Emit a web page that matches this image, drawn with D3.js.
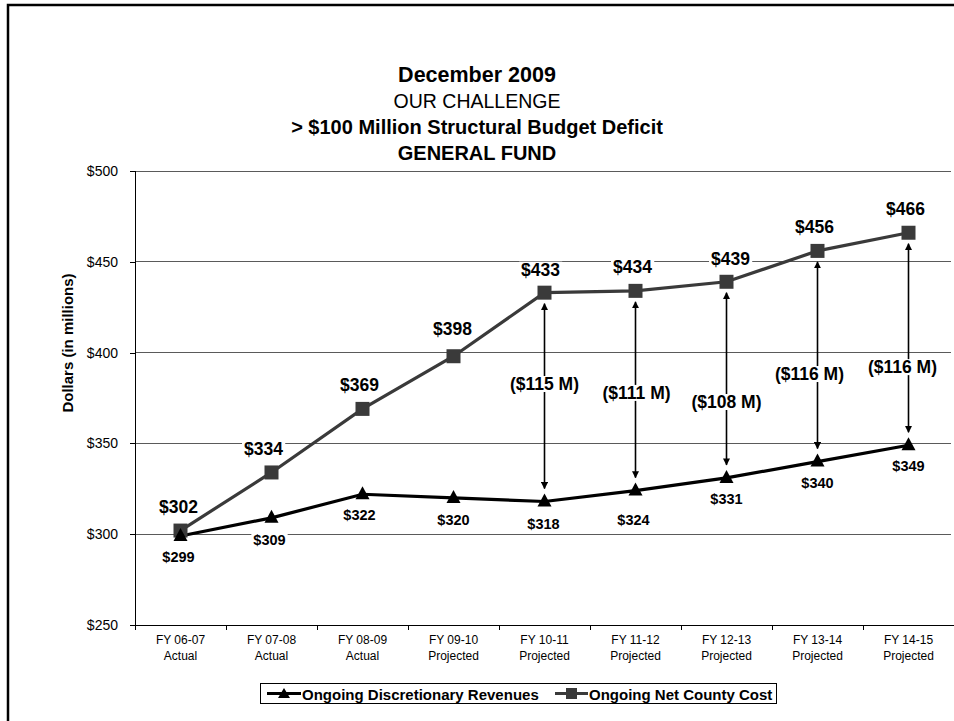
<!DOCTYPE html>
<html>
<head>
<meta charset="utf-8">
<script src="https://cdn.jsdelivr.net/npm/d3@7"></script>
<style>
  html, body { margin: 0; padding: 0; background: #fff; }
  svg { display: block; font-family: "Liberation Sans", Arial, sans-serif; }
</style>
</head>
<body>
<svg id="chart" width="954" height="721"></svg>
<script>
// ---- data ----
const categories = ["FY 06-07", "FY 07-08", "FY 08-09", "FY 09-10", "FY 10-11", "FY 11-12", "FY 12-13", "FY 13-14", "FY 14-15"];
const categoryKinds = ["Actual", "Actual", "Actual", "Projected", "Projected", "Projected", "Projected", "Projected", "Projected"];
const revenues = [299, 309, 322, 320, 318, 324, 331, 340, 349];
const netCost = [302, 334, 369, 398, 433, 434, 439, 456, 466];
const gapCategories = ["FY 10-11", "FY 11-12", "FY 12-13", "FY 13-14", "FY 14-15"];
const gapValues = [115, 111, 108, 116, 116];
const yTicks = [250, 300, 350, 400, 450, 500];
const titles = ["December 2009", "OUR CHALLENGE", "> $100 Million Structural Budget Deficit", "GENERAL FUND"];
const seriesNames = ["Ongoing Discretionary Revenues", "Ongoing Net County Cost"];

// ---- layout (not data) ----
const W = 954, H = 721;
const plot = { left: 135, right: 954, top: 171, bottom: 625 };
const costLabelOffset = [[-2, -24], [-8, -23], [-3, -24], [-1, -27], [-4, -23], [-3, -24], [4, -23], [-3, -24], [-3, -24]];
const revLabelOffset = [[-2, 21], [-2, 22], [-3, 21], [0, 22], [-1, 22], [-2, 29], [0, 21], [0, 21], [0, 21]];
const gapLabelShift = [0, 1, 0, -8, -6];
const gapLabelY = [382.7, 377.8, 372.8, 388.2, 392];

const svg = d3.select("#chart");

// frame
svg.append("rect").attr("x", 8).attr("y", 5).attr("width", W + 10).attr("height", H + 10)
  .attr("fill", "none").attr("stroke", "#000").attr("stroke-width", 2.5);

// titles
const titleStyles = [
  { y: 75, size: 21.5, weight: "bold" },
  { y: 101, size: 19.5, weight: "normal" },
  { y: 127, size: 20, weight: "bold" },
  { y: 153, size: 20, weight: "bold" }
];
titles.forEach((t, i) => {
  svg.append("text").attr("x", 477).attr("y", titleStyles[i].y)
    .attr("text-anchor", "middle").attr("dominant-baseline", "central")
    .attr("font-size", titleStyles[i].size).attr("font-weight", titleStyles[i].weight)
    .attr("fill", "#000").text(t);
});

// scales
const x = d3.scaleBand().domain(categories).range([plot.left, plot.right]).padding(0);
const y = d3.scaleLinear().domain([250, 500]).range([plot.bottom, plot.top]);
const cx = c => x(c) + x.bandwidth() / 2;

// gridlines
svg.append("g").selectAll("line").data(yTicks.filter(v => v !== 250)).join("line")
  .attr("x1", plot.left).attr("x2", plot.right - 3)
  .attr("y1", d => y(d)).attr("y2", d => y(d))
  .attr("stroke", "#5a5a5a").attr("stroke-width", 1).attr("shape-rendering", "crispEdges");

// y axis
const yAxis = svg.append("g").attr("transform", `translate(${plot.left},0)`)
  .call(d3.axisLeft(y).tickValues(yTicks).tickFormat(d => "$" + d).tickSize(5).tickPadding(12));
yAxis.select(".domain").attr("stroke", "#000").attr("shape-rendering", "crispEdges");
yAxis.selectAll(".tick line").attr("stroke", "#000").attr("shape-rendering", "crispEdges");
yAxis.selectAll("text").attr("font-size", 14).attr("fill", "#000")
  .attr("font-family", "Liberation Sans, Arial, sans-serif");

// x axis
const xAxisG = svg.append("g").attr("transform", `translate(0,${plot.bottom})`);
xAxisG.append("line").attr("x1", plot.left).attr("x2", plot.right).attr("y1", 0).attr("y2", 0)
  .attr("stroke", "#000").attr("shape-rendering", "crispEdges");
const bounds = categories.map(c => x(c)).concat([plot.right]);
xAxisG.selectAll("line.tk").data(bounds).join("line").attr("class", "tk")
  .attr("x1", d => d).attr("x2", d => d).attr("y1", 0).attr("y2", 5)
  .attr("stroke", "#000").attr("shape-rendering", "crispEdges");
categories.forEach((c, i) => {
  const t = xAxisG.append("text").attr("x", cx(c)).attr("text-anchor", "middle")
    .attr("font-size", 12).attr("fill", "#000");
  t.append("tspan").attr("x", cx(c)).attr("y", 19).text(c);
  t.append("tspan").attr("x", cx(c)).attr("y", 35).text(categoryKinds[i]);
});

// y axis title
svg.append("text").attr("transform", `translate(67,343) rotate(-90)`)
  .attr("text-anchor", "middle").attr("dominant-baseline", "central")
  .attr("font-size", 15).attr("font-weight", "bold").text("Dollars (in millions)");

// lines
const line = d3.line().x((d, i) => cx(categories[i])).y(d => y(d));
svg.append("path").datum(netCost).attr("d", line).attr("fill", "none")
  .attr("stroke", "#3a3a3a").attr("stroke-width", 3.2);
svg.append("path").datum(revenues).attr("d", line).attr("fill", "none")
  .attr("stroke", "#000").attr("stroke-width", 3.2);

// arrows
const defs = svg.append("defs");
defs.append("marker").attr("id", "ah").attr("viewBox", "0 0 10 10").attr("refX", 9).attr("refY", 5)
  .attr("markerWidth", 4.5).attr("markerHeight", 4.5).attr("orient", "auto-start-reverse")
  .attr("markerUnits", "strokeWidth")
  .append("path").attr("d", "M0,0 L10,5 L0,10 z").attr("fill", "#000");
gapCategories.forEach((c, i) => {
  const idx = categories.indexOf(c);
  svg.append("line").attr("x1", cx(c)).attr("x2", cx(c))
    .attr("y1", y(netCost[idx]) + 11).attr("y2", y(revenues[idx]) - 13)
    .attr("stroke", "#000").attr("stroke-width", 1.6)
    .attr("marker-start", "url(#ah)").attr("marker-end", "url(#ah)");
});

// markers
const sym = svg.append("g");
netCost.forEach((v, i) => {
  sym.append("rect").attr("x", cx(categories[i]) - 7).attr("y", y(v) - 7)
    .attr("width", 14).attr("height", 14).attr("fill", "#3a3a3a");
});
revenues.forEach((v, i) => {
  sym.append("path").attr("transform", `translate(${cx(categories[i])},${y(v)})`)
    .attr("d", "M0,-8 L7,5 L-7,5 Z").attr("fill", "#000");
});

// labels with white background
function boxedLabel(xp, yp, text, size) {
  const g = svg.append("g");
  const t = g.append("text").attr("x", xp).attr("y", yp).attr("text-anchor", "middle")
    .attr("dominant-baseline", "central").attr("font-size", size).attr("font-weight", "bold")
    .attr("fill", "#000").text(text);
  const bb = t.node().getBBox();
  g.insert("rect", "text").attr("x", bb.x - 2).attr("y", bb.y + 2).attr("width", bb.width + 4)
    .attr("height", bb.height - 4).attr("fill", "#fff");
}
netCost.forEach((v, i) => {
  boxedLabel(cx(categories[i]) + costLabelOffset[i][0], y(v) + costLabelOffset[i][1], "$" + v, 17.5);
});
revenues.forEach((v, i) => {
  boxedLabel(cx(categories[i]) + revLabelOffset[i][0], y(v) + revLabelOffset[i][1], "$" + v, 14.5);
});
gapCategories.forEach((c, i) => {
  boxedLabel(cx(c) + gapLabelShift[i], y(gapLabelY[i]), "($" + gapValues[i] + " M)", 17.5);
});

// legend
const lg = svg.append("g");
lg.append("rect").attr("x", 260.5).attr("y", 683.5).attr("width", 516).attr("height", 20)
  .attr("fill", "#fff").attr("stroke", "#000").attr("stroke-width", 1);
const legItems = [
  { x0: 267, x1: 301, tx: 302, color: "#000", shape: "tri" },
  { x0: 555, x1: 588, tx: 589, color: "#3a3a3a", shape: "sq" }
];
legItems.forEach((it, i) => {
  lg.append("line").attr("x1", it.x0).attr("x2", it.x1).attr("y1", 693.5).attr("y2", 693.5)
    .attr("stroke", it.color).attr("stroke-width", 3);
  const mx = (it.x0 + it.x1) / 2;
  if (it.shape === "tri") {
    lg.append("path").attr("transform", `translate(${mx},694)`).attr("d", "M0,-6 L6,4 L-6,4 Z").attr("fill", it.color);
  } else {
    lg.append("rect").attr("x", mx - 5.5).attr("y", 688).attr("width", 11).attr("height", 11).attr("fill", it.color);
  }
  lg.append("text").attr("x", it.tx).attr("y", 694).attr("dominant-baseline", "central")
    .attr("font-size", 15).attr("font-weight", "bold").attr("fill", "#000").text(seriesNames[i]);
});
</script>
</body>
</html>
